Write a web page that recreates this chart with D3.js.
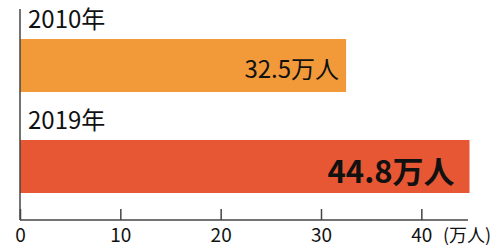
<!DOCTYPE html>
<html lang="ja">
<head>
<meta charset="utf-8">
<style>
  body { margin: 0; background: #fff; }
  svg { font-family: "Noto Sans CJK JP", "Noto Sans", sans-serif; }
  .axis path, .axis line { stroke: #444; stroke-width: 1.5px; }
</style>
</head>
<body>
<svg width="492" height="245"></svg>
<script src="https://cdn.jsdelivr.net/npm/d3@7"></script>
<script>
// data
var years = ["2010年", "2019年"];
var values = [32.5, 44.8];
var valueLabels = ["32.5万人", "44.8万人"];
var colors = ["#f29a3a", "#e85733"];
var ticks = [0, 10, 20, 30, 40];
var unit = "(万人)";

var svg = d3.select("svg");
var x0 = 20;

var x = d3.scaleLinear().domain([0, 44.8]).range([x0, 469.5]);
var y = d3.scaleBand().domain(years).range([9, 211]);

// rows: year label on top, bar below
var g = svg.selectAll("g.row").data(years).enter().append("g").attr("class", "row");

g.append("rect")
    .attr("x", x(0))
    .attr("y", d => y(d) + 30)
    .attr("width", (d, i) => x(values[i]) - x(0))
    .attr("height", 53)
    .attr("fill", (d, i) => colors[i]);

g.append("text")
    .attr("x", 28)
    .attr("y", d => y(d) + 19)
    .attr("font-size", 24)
    .attr("fill", "#111")
    .text(d => d);

g.append("text")
    .attr("x", (d, i) => x(values[i]) - (i === 0 ? 7 : 15))
    .attr("y", (d, i) => y(d) + (i === 0 ? 69 : 73))
    .attr("text-anchor", "end")
    .attr("font-size", (d, i) => i === 0 ? 24 : 31)
    .attr("font-weight", (d, i) => i === 0 ? "normal" : "bold")
    .attr("fill", "#111")
    .text((d, i) => valueLabels[i]);

// y axis line
svg.append("line")
    .attr("x1", x0).attr("x2", x0)
    .attr("y1", 9).attr("y2", 220)
    .attr("stroke", "#444").attr("stroke-width", 1.5);

// x axis
var xAxis = d3.axisBottom(x).tickValues(ticks).tickSize(-11).tickSizeOuter(0);
var ax = svg.append("g").attr("class", "axis").attr("transform", "translate(0,220)").call(xAxis);
ax.select(".domain").attr("d", "M" + x0 + ",0H468");
ax.selectAll("text")
    .attr("y", 22).attr("dy", 0)
    .attr("font-size", 19).attr("fill", "#111")
    .attr("font-family", "Noto Sans CJK JP");

svg.append("text")
    .attr("x", 443)
    .attr("y", 242)
    .attr("font-size", 18)
    .attr("fill", "#111")
    .text(unit);
</script>
</body>
</html>
